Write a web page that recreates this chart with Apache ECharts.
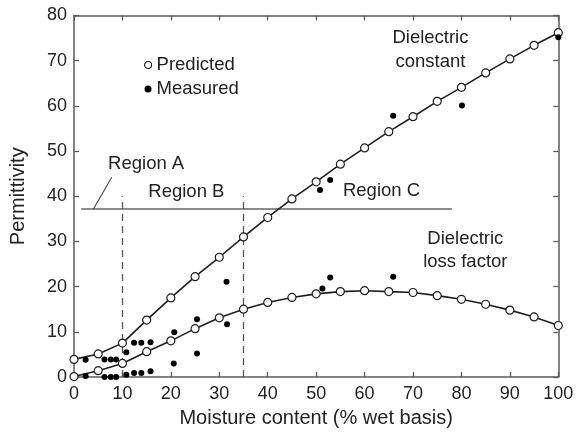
<!DOCTYPE html>
<html>
<head>
<meta charset="utf-8">
<style>
  html, body { margin: 0; padding: 0; background: #fff; }
  #chart { width: 580px; height: 433px; }
</style>
<script src="https://cdn.jsdelivr.net/npm/echarts@6/dist/echarts.min.js"></script>
</head>
<body>
<div id="chart"></div>
<script>
// Moisture content (% wet basis) at which the model is evaluated
const moisture = [0, 5, 10, 15, 20, 25, 30, 35, 40, 45, 50, 55, 60, 65, 70, 75, 80, 85, 90, 95, 100];

// Predicted dielectric constant and loss factor
const constantPredicted = [3.9, 5.1, 7.5, 12.6, 17.5, 22.2, 26.5, 31.0, 35.3, 39.4, 43.2, 47.1, 50.7, 54.3, 57.6, 61.0, 64.1, 67.3, 70.4, 73.4, 76.2];
const lossPredicted = [0.1, 1.4, 3.0, 5.6, 8.0, 10.7, 13.1, 15.0, 16.5, 17.6, 18.4, 18.9, 19.1, 18.9, 18.7, 18.0, 17.2, 16.1, 14.8, 13.3, 11.4];

// Measured samples: [moisture, permittivity]
const constantMeasured = [
  [2.4, 3.8], [6.3, 3.9], [7.6, 3.9], [8.7, 3.9], [10.8, 5.5], [12.4, 7.6], [13.9, 7.6], [15.8, 7.7],
  [20.7, 9.9], [25.4, 12.8], [31.5, 21.1], [50.8, 41.4], [52.9, 43.6], [65.9, 57.8], [80.1, 60.1], [100, 75.2]
];
const lossMeasured = [
  [2.4, 0.2], [6.3, 0.0], [7.6, 0.0], [8.7, 0.0], [10.8, 0.5], [12.4, 0.9], [13.9, 0.9], [15.8, 1.3],
  [20.6, 3.0], [25.4, 5.2], [31.6, 11.7], [51.3, 19.6], [52.9, 22.0], [65.9, 22.2]
];

// Region boundaries (data units)
const regionLevel = 37.2;
const regionLineStart = 1.5;
const regionLineEnd = 78;
const boundaryAB = 10;
const boundaryBC = 35;
const boundaryTop = 40;
const regionAPointer = [[4.0, 37.2], [7.8, 44.2]];

// Tick settings
const xMin = 0, xMax = 100, xStep = 10;
const yMin = 0, yMax = 80, yStep = 10;

// Annotation texts anchored in data coordinates
const annotations = [
  { text: 'Region A', at: [14.9, 47.1] },
  { text: 'Region B', at: [23.2, 40.9] },
  { text: 'Region C', at: [63.5, 41.2] },
  { text: 'Dielectric', at: [73.6, 75.0] },
  { text: 'constant', at: [73.6, 69.7] },
  { text: 'Dielectric', at: [80.8, 30.5] },
  { text: 'loss factor', at: [80.8, 25.5] }
];

const FONT = '"Liberation Sans", Arial, Helvetica, sans-serif';
const TEXT = '#222';
const FRAME = '#5a5a5a';
const INK = '#1e1e1e';

const pair = (xs, ys) => xs.map((x, i) => [x, ys[i]]);

const frameAxis = (extra) => Object.assign({
  type: 'value',
  axisLine: { show: true, onZero: false, lineStyle: { color: FRAME, width: 1.5 } },
  axisTick: { show: true, inside: true, length: 5, lineStyle: { color: FRAME, width: 1.3 } },
  splitLine: { show: false }
}, extra);

const chart = echarts.init(document.getElementById('chart'), null, { renderer: 'canvas' });

const predictedStyle = {
  type: 'line',
  name: 'Predicted',
  symbol: 'circle',
  symbolSize: 8,
  showAllSymbol: true,
  lineStyle: { color: INK, width: 1.6 },
  itemStyle: { color: '#fff', borderColor: INK, borderWidth: 1.2 },
  z: 3
};

const measuredStyle = {
  type: 'scatter',
  name: 'Measured',
  symbol: 'circle',
  symbolSize: 6,
  itemStyle: { color: '#000', opacity: 1 },
  z: 4
};

chart.setOption({
  animation: false,
  backgroundColor: '#fff',
  textStyle: { fontFamily: FONT },
  grid: { left: 72.5, right: 21.7, top: 15.5, bottom: 56 },
  xAxis: [
    frameAxis({
      position: 'bottom', min: xMin, max: xMax, interval: xStep,
      axisLabel: { color: TEXT, fontSize: 18, margin: 8, fontFamily: FONT },
      name: 'Moisture content (% wet basis)', nameLocation: 'middle', nameGap: 31,
      nameTextStyle: { color: TEXT, fontSize: 20, fontFamily: FONT }
    }),
    frameAxis({ position: 'top', min: xMin, max: xMax, interval: xStep, axisLabel: { show: false } })
  ],
  yAxis: [
    frameAxis({
      position: 'left', min: yMin, max: yMax, interval: yStep,
      axisLabel: { color: TEXT, fontSize: 18, margin: 7, fontFamily: FONT },
      name: 'Permittivity', nameLocation: 'middle', nameGap: 46,
      nameTextStyle: { color: TEXT, fontSize: 20, fontFamily: FONT }
    }),
    frameAxis({ position: 'right', min: yMin, max: yMax, interval: yStep, axisLabel: { show: false } })
  ],
  legend: {
    orient: 'vertical',
    left: 139,
    top: 50,
    itemWidth: 7,
    itemHeight: 7,
    itemGap: 4,
    selectedMode: false,
    textStyle: { color: TEXT, fontSize: 18.5, fontFamily: FONT, lineHeight: 20 },
    data: [
      { name: 'Predicted', icon: 'circle', itemStyle: { color: '#fff', borderColor: INK, borderWidth: 1.1 } },
      { name: 'Measured', icon: 'circle', itemStyle: { color: '#000', borderWidth: 0 } }
    ]
  },
  series: [
    Object.assign({}, predictedStyle, {
      data: pair(moisture, constantPredicted),
      markLine: {
        silent: true,
        symbol: 'none',
        label: { show: false },
        z: 1,
        data: [
          [{ coord: [regionLineStart, regionLevel], lineStyle: { color: '#666', width: 1.6, type: 'solid' } },
           { coord: [regionLineEnd, regionLevel] }],
          [{ coord: [boundaryAB, 0], lineStyle: { color: '#555', width: 1.3, type: [7, 5] } },
           { coord: [boundaryAB, boundaryTop] }],
          [{ coord: [boundaryBC, 0], lineStyle: { color: '#555', width: 1.3, type: [7, 5] } },
           { coord: [boundaryBC, boundaryTop] }],
          [{ coord: regionAPointer[0], lineStyle: { color: '#444', width: 1.1, type: 'solid' } },
           { coord: regionAPointer[1] }]
        ]
      }
    }),
    Object.assign({}, predictedStyle, { data: pair(moisture, lossPredicted) }),
    Object.assign({}, measuredStyle, { data: constantMeasured }),
    Object.assign({}, measuredStyle, { data: lossMeasured })
  ]
});

// Place the text annotations once the axes are laid out
chart.setOption({
  graphic: annotations.map(a => {
    const p = chart.convertToPixel({ xAxisIndex: 0, yAxisIndex: 0 }, a.at);
    return {
      type: 'text',
      x: p[0],
      y: p[1],
      silent: true,
      style: {
        text: a.text,
        fill: TEXT,
        font: '18.5px ' + FONT,
        align: 'center',
        verticalAlign: 'middle'
      }
    };
  })
});
</script>
</body>
</html>
